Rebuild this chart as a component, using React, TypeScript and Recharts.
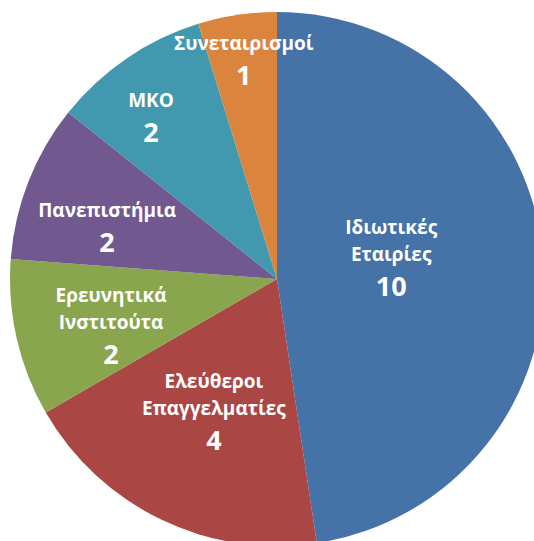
import { PieChart, Pie, Cell } from "recharts";

const categories = [
  "Ιδιωτικές Εταιρίες",
  "Ελεύθεροι Επαγγελματίες",
  "Ερευνητικά Ινστιτούτα",
  "Πανεπιστήμια",
  "ΜΚΟ",
  "Συνεταιρισμοί",
];
const counts = [10, 4, 2, 2, 2, 1];

const colors = ["#4572A7", "#AA4643", "#89A54E", "#71588F", "#4198AF", "#DB843D"];

// label placement: share of the radius and a small turn off the mid angle (Excel "best fit" look)
const labelRadius = [0.436, 0.545, 0.644, 0.667, 0.772, 0.837];
const labelTurn = [7, 0, 2.3, 4, 3.4, 0];

const data = categories.map((name, i) => ({ name, value: counts[i] }));

const RADIAN = Math.PI / 180;

function renderLabel(props: any) {
  const { cx, cy, midAngle, outerRadius, index, name, value } = props;
  const r = outerRadius * labelRadius[index];
  const a = (midAngle + labelTurn[index]) * RADIAN;
  const x = cx + r * Math.cos(-a);
  const y = cy + r * Math.sin(-a);
  const lines = String(name).split(" ");
  const lineH = 27;
  const numGap = 31;
  const total = (lines.length - 1) * lineH + numGap;
  const top = y - total / 2;
  return (
    <text
      x={x}
      y={top}
      fill="#ffffff"
      textAnchor="middle"
      dominantBaseline="central"
      fontFamily="'Open Sans', sans-serif"
      fontWeight="bold"
    >
      {lines.map((l, i) => (
        <tspan key={i} x={x} y={top + i * lineH} fontSize={19}>
          {l}
        </tspan>
      ))}
      <tspan x={x} y={top + (lines.length - 1) * lineH + numGap} fontSize={27}>
        {value}
      </tspan>
    </text>
  );
}

export default function App() {
  return (
    <div style={{ position: "absolute", left: 0, top: 0, background: "#fff" }}>
      <PieChart width={534} height={541} margin={{ top: 0, right: 0, bottom: 0, left: 0 }}>
        <Pie
          data={data}
          dataKey="value"
          nameKey="name"
          cx={277}
          cy={279}
          outerRadius={267}
          startAngle={90}
          endAngle={-270}
          stroke="none"
          labelLine={false}
          label={renderLabel}
          isAnimationActive={false}
        >
          {data.map((d, i) => (
            <Cell key={d.name} fill={colors[i]} />
          ))}
        </Pie>
      </PieChart>
    </div>
  );
}
